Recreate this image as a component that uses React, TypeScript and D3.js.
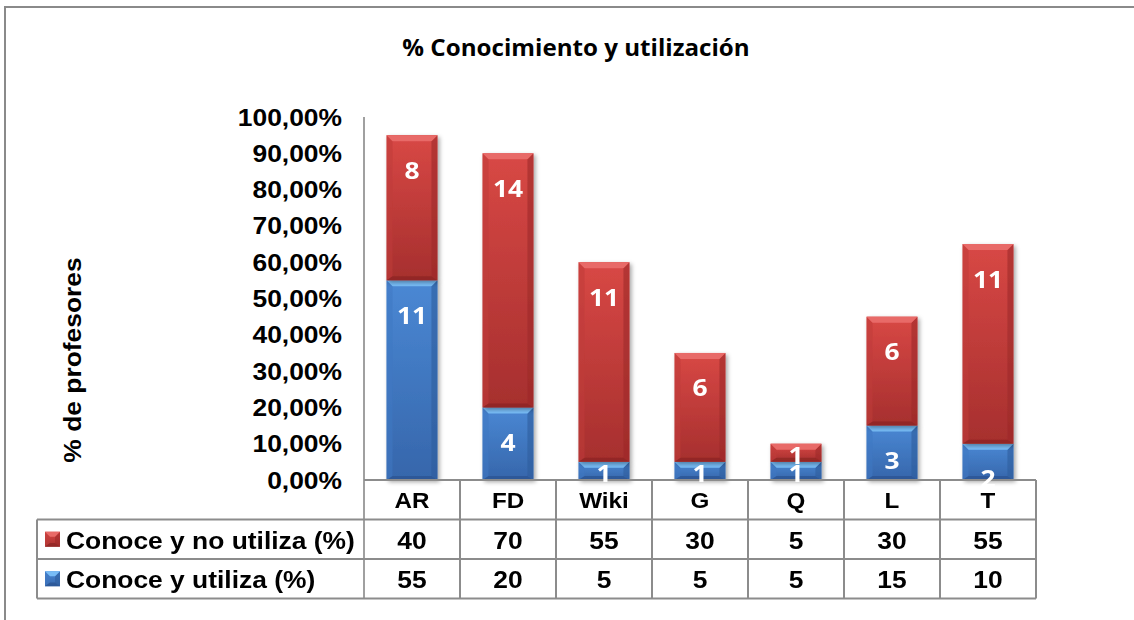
import React from "react";
import * as d3 from "d3";

const categories = ["AR", "FD", "Wiki", "G", "Q", "L", "T"];
const conoceNoUtiliza = [40, 70, 55, 30, 5, 30, 55];
const conoceUtiliza = [55, 20, 5, 5, 5, 15, 10];
const countNoUtiliza = [8, 14, 11, 6, 1, 6, 11];
const countUtiliza = [11, 4, 1, 1, 1, 3, 2];
const yTicks = [0, 10, 20, 30, 40, 50, 60, 70, 80, 90, 100];
const seriesNames = ["Conoce y no utiliza (%)", "Conoce y utiliza (%)"];
const title = "% Conocimiento y utilización";
const yTitle = "% de profesores";

const W = 1134;
const H = 620;
const plotLeft = 364;
const plotRight = 1036;
const plotBottom = 480;
const plotTop = 117;
const tableLeft = 37;
const rowH = 39.5;
const gridColor = "#8c8c8c";
const arial = "'Liberation Sans', Arial, sans-serif";
const calibri = "'Open Sans', 'Noto Sans', sans-serif";
const SX = 1.1;

const palette = {
  red: { top: "#D84845", bottom: "#A62F2E", bevel: "#E86A67", left: "#C03C3A", right: "#9C2A29", base: "#8A2524" },
  blue: { top: "#4A88D4", bottom: "#3666AB", bevel: "#78BCF6", left: "#4079C2", right: "#2F5D9D", base: "#2A5390" },
};

function ST({ x, y, anchor, size, fill, children, family = arial, weight = "bold" }: any) {
  return (
    <text
      transform={`translate(${x},${y}) scale(${SX},1)`}
      textAnchor={anchor}
      dominantBaseline="central"
      fontFamily={family}
      fontWeight={weight}
      fontSize={size}
      fill={fill}
    >
      {children}
    </text>
  );
}

function BevelRect({ x0, x1, y0, y1, c, gid }: any) {
  const h = y1 - y0;
  const b = Math.min(6, h / 3);
  const s = Math.min(4, h / 4);
  return (
    <g>
      <rect x={x0} y={y0} width={x1 - x0} height={h} fill={`url(#${gid})`} />
      <polygon points={`${x0},${y0} ${x0 + b},${y0 + b} ${x0 + b},${y1 - s} ${x0},${y1}`} fill={c.left} opacity={0.55} />
      <polygon points={`${x1},${y0} ${x1 - b},${y0 + b} ${x1 - b},${y1 - s} ${x1},${y1}`} fill={c.right} opacity={0.6} />
      <polygon points={`${x0},${y1} ${x0 + b},${y1 - s} ${x1 - b},${y1 - s} ${x1},${y1}`} fill={c.base} opacity={0.7} />
      <polygon points={`${x0},${y0} ${x1},${y0} ${x1 - b},${y0 + b} ${x0 + b},${y0 + b}`} fill={c.bevel} />
    </g>
  );
}

export default function App() {
  const x = d3
    .scaleBand<string>()
    .domain(categories)
    .range([plotLeft, plotRight])
    .paddingInner(0.47)
    .paddingOuter(0.235);
  const y = d3.scaleLinear().domain([0, 100]).range([plotBottom, plotTop]);
  const step = x.step();

  const rows = categories.map((c, i) => ({
    cat: c,
    utiliza: conoceUtiliza[i],
    noUtiliza: conoceNoUtiliza[i],
  }));
  const stack = d3.stack<any>().keys(["utiliza", "noUtiliza"])(rows);

  const colLines = categories.map((c) => (x(c) as number) - step * 0.235);
  const rowTops = [plotBottom, plotBottom + rowH, plotBottom + 2 * rowH, plotBottom + 3 * rowH];
  const tableValues = [conoceNoUtiliza, conoceUtiliza];
  const markerColors = [palette.red, palette.blue];
  const labelsBySeries = [countUtiliza, countNoUtiliza];

  const labelY = (y0: number, y1: number) => {
    const h = y1 - y0;
    return h >= 30 ? y0 + 34 : (y0 + y1) / 2 + 2;
  };

  return (
    <svg
      width={W}
      height={H}
      viewBox={`0 0 ${W} ${H}`}
      style={{ position: "absolute", left: 0, top: 0, background: "#fff" }}
    >
      <defs>
        {(["red", "blue"] as const).map((k) => (
          <linearGradient key={k} id={`g-${k}`} x1="0" y1="0" x2="0" y2="1">
            <stop offset="0%" stopColor={palette[k].top} />
            <stop offset="100%" stopColor={palette[k].bottom} />
          </linearGradient>
        ))}
        <filter id="shadow" x="-20%" y="-10%" width="140%" height="130%">
          <feDropShadow dx="2" dy="2" stdDeviation="2" floodColor="#000" floodOpacity="0.35" />
        </filter>
      </defs>
      <rect x={5} y={7} width={1200} height={700} fill="#fff" stroke="#8a8a8a" strokeWidth={2} />

      <text
        transform={`translate(576,47) scale(1.05,1)`}
        textAnchor="middle"
        dominantBaseline="central"
        fontFamily={calibri}
        fontWeight="bold"
        fontSize={23}
        fill="#000"
      >
        {title}
      </text>

      {yTicks.map((t) => (
        <ST key={t} x={342} y={y(t)} anchor="end" size={24} fill="#000">
          {d3.format(".2f")(t).replace(".", ",") + "%"}
        </ST>
      ))}

      <text
        transform={`translate(72,360) rotate(-90) scale(1.1,1)`}
        textAnchor="middle"
        dominantBaseline="central"
        fontFamily={arial}
        fontWeight="bold"
        fontSize={24}
        fill="#000"
      >
        {yTitle}
      </text>

      {stack.map((s, si) => (
        <g key={si} filter="url(#shadow)">
          {s.map((d: any, i: number) => {
            const x0 = x(categories[i]) as number;
            const x1 = x0 + x.bandwidth();
            const k = si === 0 ? "blue" : "red";
            return <BevelRect key={i} x0={x0} x1={x1} y0={y(d[1])} y1={y(d[0])} c={palette[k]} gid={`g-${k}`} />;
          })}
        </g>
      ))}

      {/* axis and data table */}
      <g stroke={gridColor} strokeWidth={2} fill="none">
        <line x1={plotLeft} x2={plotLeft} y1={plotTop} y2={rowTops[3]} stroke="#a0a0a0" />
        <line x1={plotLeft} x2={plotRight} y1={rowTops[0]} y2={rowTops[0]} />
        {[1, 2, 3].map((r) => (
          <line key={r} x1={tableLeft} x2={plotRight} y1={rowTops[r]} y2={rowTops[r]} />
        ))}
        <line x1={tableLeft} x2={tableLeft} y1={rowTops[1]} y2={rowTops[3]} />
        {colLines.slice(1).map((cx, i) => (
          <line key={i} x1={cx} x2={cx} y1={rowTops[0]} y2={rowTops[3]} />
        ))}
        <line x1={plotRight} x2={plotRight} y1={rowTops[0]} y2={rowTops[3]} />
      </g>

      {categories.map((c) => (
        <ST key={c} x={(x(c) as number) + x.bandwidth() / 2} y={rowTops[0] + rowH / 2 + 1} anchor="middle" size={22} fill="#000">
          {c}
        </ST>
      ))}

      {seriesNames.map((name, r) => {
        const cy = rowTops[r + 1] + rowH / 2;
        const c = markerColors[r];
        return (
          <g key={name}>
            <BevelRect x0={45} x1={60} y0={cy - 7.5} y1={cy + 7.5} c={c} gid={r === 0 ? "g-red" : "g-blue"} />
            <ST x={66} y={cy + 1} anchor="start" size={24} fill="#000">
              {name}
            </ST>
            {tableValues[r].map((v, i) => (
              <ST key={i} x={(x(categories[i]) as number) + x.bandwidth() / 2} y={cy + 1} anchor="middle" size={24} fill="#000">
                {v}
              </ST>
            ))}
          </g>
        );
      })}

      {stack.map((s, si) =>
        s.map((d: any, i: number) => {
          const y0 = y(d[1]);
          const y1 = y(d[0]);
          return (
            <ST
              key={`${si}-${i}`}
              x={(x(categories[i]) as number) + x.bandwidth() / 2}
              y={labelY(y0, y1)}
              anchor="middle"
              family={calibri}
              size={24}
              fill="#fff"
            >
              {labelsBySeries[si][i]}
            </ST>
          );
        })
      )}
    </svg>
  );
}
